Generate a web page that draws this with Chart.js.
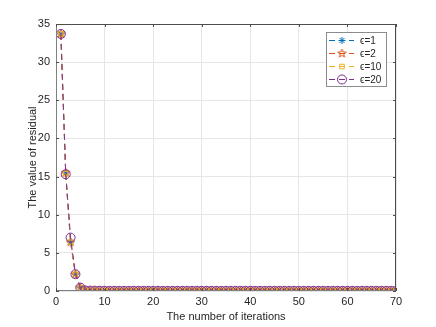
<!DOCTYPE html>
<html>
<head>
<meta charset="utf-8">
<script src="https://cdn.jsdelivr.net/npm/chart.js@4"></script>
<style>
  html, body { margin: 0; padding: 0; background: #fff; }
  #wrap { width: 436px; height: 327px; position: relative; }
</style>
</head>
<body>
<div id="wrap"><canvas id="canv"></canvas></div>
<script>
// iteration index 1..70
const iterations = [
  1, 2, 3, 4, 5, 6, 7, 8, 9, 10, 11, 12, 13, 14, 15, 16, 17, 18, 19, 20,
  21, 22, 23, 24, 25, 26, 27, 28, 29, 30, 31, 32, 33, 34, 35, 36, 37, 38, 39, 40,
  41, 42, 43, 44, 45, 46, 47, 48, 49, 50, 51, 52, 53, 54, 55, 56, 57, 58, 59, 60,
  61, 62, 63, 64, 65, 66, 67, 68, 69, 70
];

const tail = [
  0.08, 0.05, 0.04, 0.03, 0.03, 0.02, 0.02, 0.02, 0.02, 0.02, 0.02, 0.02, 0.02, 0.02, 0.02,
  0.02, 0.02, 0.02, 0.02, 0.02, 0.02, 0.02, 0.02, 0.02, 0.02, 0.02, 0.02, 0.02, 0.02, 0.02,
  0.02, 0.02, 0.02, 0.02, 0.02, 0.02, 0.02, 0.02, 0.02, 0.02, 0.02, 0.02, 0.02, 0.02, 0.02,
  0.02, 0.02, 0.02, 0.02, 0.02, 0.02, 0.02, 0.02, 0.02, 0.02, 0.02, 0.02, 0.02, 0.02, 0.02,
  0.02, 0.02, 0.02, 0.02, 0.02
];

const eps1  = [33.7, 15.5, 6.4, 2.2, 0.45].concat(tail);
const eps2  = [33.7, 15.5, 6.4, 2.2, 0.45].concat(tail);
const eps10 = [33.7, 15.4, 6.4, 2.2, 0.45].concat(tail);
const eps20 = [33.7, 15.3, 7.0, 2.2, 0.45].concat(tail);

const seriesLabels = ['ϵ=1', 'ϵ=2', 'ϵ=10', 'ϵ=20'];
const seriesColors = ['#0072BD', '#D95319', '#EDB120', '#7E2F8E'];

const xTicks = [0, 10, 20, 30, 40, 50, 60, 70];
const yTicks = [0, 5, 10, 15, 20, 25, 30, 35];

// pentagram marker for eps=2
function makePentagram(color, r) {
  const c = document.createElement('canvas');
  const s = Math.ceil(r * 2 + 4);
  c.width = s; c.height = s;
  const g = c.getContext('2d');
  g.strokeStyle = color;
  g.lineWidth = 1;
  g.beginPath();
  for (let i = 0; i < 10; i++) {
    const rr = i % 2 === 0 ? r : r * 0.4;
    const a = -Math.PI / 2 + i * Math.PI / 5;
    const px = s / 2 + rr * Math.cos(a), py = s / 2 + rr * Math.sin(a);
    if (i === 0) g.moveTo(px, py); else g.lineTo(px, py);
  }
  g.closePath();
  g.stroke();
  return c;
}
const star5 = makePentagram(seriesColors[1], 4.5);
const pointStyles = ['star', star5, 'rect', 'circle'];
const pointRadii = [3.5, 4.5, 3.2, 4.5];

const PLOT = { left: 56, right: 396, top: 24, bottom: 291 };
const FONT = '"Liberation Sans", Arial, sans-serif';
const TXT = '#262626';

const matlabFrame = {
  id: 'matlabFrame',
  afterDatasetsDraw(chart) {
    const ctx = chart.ctx;
    const a = chart.chartArea;
    const xs = chart.scales.x, ys = chart.scales.y;
    const l = a.left + 0.5, r = a.right - 0.5, t = a.top + 0.5, b = a.bottom - 0.5;
    ctx.save();
    ctx.lineWidth = 1;
    // top / right edges
    ctx.strokeStyle = '#4d4d4d';
    ctx.beginPath();
    ctx.moveTo(l, t); ctx.lineTo(r, t); ctx.lineTo(r, b);
    ctx.stroke();
    // left / bottom axes
    ctx.strokeStyle = '#808080';
    ctx.beginPath();
    ctx.moveTo(l, t); ctx.lineTo(l, b); ctx.lineTo(r, b);
    ctx.stroke();
    ctx.strokeStyle = '#4d4d4d';
    ctx.beginPath();
    xTicks.forEach(v => {
      const px = Math.round(xs.getPixelForValue(v)) + 0.5;
      ctx.moveTo(px, a.bottom); ctx.lineTo(px, a.bottom - 3);
      ctx.moveTo(px, a.top); ctx.lineTo(px, a.top + 3);
    });
    yTicks.forEach(v => {
      const py = Math.round(ys.getPixelForValue(v)) + 0.5;
      ctx.moveTo(a.left, py); ctx.lineTo(a.left + 3, py);
      ctx.moveTo(a.right, py); ctx.lineTo(a.right - 3, py);
    });
    ctx.stroke();

    // legend box
    const bx = 326, by = 32, bw = 60, bh = 54;
    ctx.fillStyle = '#fff';
    ctx.fillRect(bx, by, bw, bh);
    ctx.strokeStyle = '#8c8c8c';
    ctx.strokeRect(bx + 0.5, by + 0.5, bw, bh);
    const ds = chart.data.datasets;
    ds.forEach((d, i) => {
      const cy = by + 8.5 + i * 13;
      ctx.strokeStyle = d.borderColor;
      ctx.setLineDash([6, 4]);
      ctx.beginPath();
      ctx.moveTo(bx + 3, cy); ctx.lineTo(bx + 28, cy);
      ctx.stroke();
      ctx.setLineDash([]);
      const opts = {
        pointStyle: d.pointStyle, radius: d.pointRadius,
        borderWidth: 1, rotation: 0
      };
      ctx.fillStyle = 'rgba(0,0,0,0)';
      Chart.helpers.drawPoint(ctx, opts, bx + 16, cy);
      ctx.fillStyle = TXT;
      ctx.font = '10px ' + FONT;
      ctx.textBaseline = 'middle';
      ctx.textAlign = 'left';
      ctx.fillText(d.label, bx + 34, cy + 1);
    });
    ctx.restore();
  }
};

const datasets = [eps1, eps2, eps10, eps20].map((vals, i) => ({
  label: seriesLabels[i],
  data: vals,
  borderColor: seriesColors[i],
  backgroundColor: 'rgba(0,0,0,0)',
  borderWidth: 1,
  borderDash: [6, 4],
  pointStyle: pointStyles[i],
  pointRadius: pointRadii[i],
  pointBorderColor: seriesColors[i],
  pointBackgroundColor: 'rgba(0,0,0,0)',
  pointBorderWidth: 1,
  tension: 0,
  order: 4 - i
}));

new Chart(document.getElementById('canv').getContext('2d'), {
  type: 'line',
  data: { labels: iterations, datasets: datasets },
  options: {
    responsive: true,
    maintainAspectRatio: false,
    animation: false,
    events: [],
    layout: { padding: { top: PLOT.top, right: 436 - PLOT.right, left: 26, bottom: 3 } },
    plugins: { legend: { display: false }, tooltip: { enabled: false } },
    scales: {
      x: {
        type: 'linear',
        min: 0, max: 70,
        afterBuildTicks: s => { s.ticks = xTicks.map(v => ({ value: v })); },
        afterFit: s => { s.height = 327 - 3 - PLOT.bottom; },
        grid: { color: '#e6e6e6', drawTicks: false },
        border: { display: false },
        ticks: { color: TXT, font: { family: FONT, size: 11 }, padding: 4, maxRotation: 0 },
        title: { display: true, text: 'The number of iterations', color: TXT,
                 font: { family: FONT, size: 11 }, padding: { top: 0, bottom: 0 } }
      },
      y: {
        min: 0, max: 35,
        afterBuildTicks: s => { s.ticks = yTicks.map(v => ({ value: v })); },
        afterFit: s => { s.width = PLOT.left - 26; },
        grid: { color: '#e6e6e6', drawTicks: false },
        border: { display: false },
        ticks: { color: TXT, font: { family: FONT, size: 11 }, padding: 6 },
        title: { display: true, text: 'The value of residual', color: TXT,
                 font: { family: FONT, size: 11 }, padding: { top: 0, bottom: 0 } }
      }
    }
  },
  plugins: [matlabFrame]
});
</script>
</body>
</html>
